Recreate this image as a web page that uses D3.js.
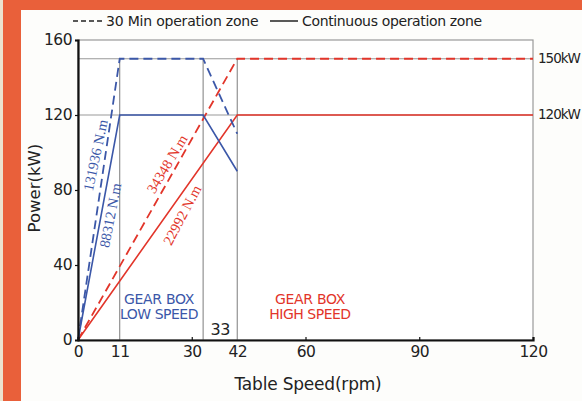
<!DOCTYPE html>
<html><head><meta charset="utf-8">
<script src="https://cdn.jsdelivr.net/npm/d3@7/dist/d3.min.js"></script>
<style>html,body{margin:0;padding:0;background:#fff;overflow:hidden}</style>
</head><body><svg id="c" width="582" height="401"></svg>
<script>
const xTicks = [0, 11, 30, 42, 60, 90, 120];
const yTicks = [0, 40, 80, 120, 160];
const blueDash = [[0,0],[11,150],[33,150],[42,110]];
const blueSolid = [[0,0],[11,120],[33,120],[42,90]];
const redDash = [[0,0],[42,150],[120,150]];
const redSolid = [[0,0],[42,120],[120,120]];
const refH = [150, 120];
const refV = [11, 33, 42];
const rightLabels = [[150,"150kW"],[120,"120kW"]];
const torqueLabels = [
  {text:"131936 N.m", at:[5.9, 98], angle:-78, color:"#3b57a8"},
  {text:"88312 N.m", at:[9.8, 66], angle:-79, color:"#3b57a8"},
  {text:"34348 N.m", at:[24.6, 92.5], angle:-59, color:"#e2352a"},
  {text:"22992 N.m", at:[28.6, 65.4], angle:-62, color:"#e2352a"}
];
const F = "DejaVu Sans, sans-serif";
const blue = "#3b57a8", red = "#e2352a";

const svg = d3.select("#c");
// page frame
svg.append("rect").attr("x",0).attr("y",0).attr("width",582).attr("height",401).attr("fill","#fdfdfb");
svg.append("rect").attr("x",0).attr("y",0).attr("width",582).attr("height",10).attr("fill","#e9603a");
svg.append("rect").attr("x",0).attr("y",0).attr("width",3).attr("height",401).attr("fill","#ece3cf");
svg.append("rect").attr("x",3).attr("y",0).attr("width",18).attr("height",401).attr("fill","#e9603a");

const x = d3.scaleLinear().domain([0,120]).range([78,533]);
const y = d3.scaleLinear().domain([0,160]).range([340,40]);

// box
svg.append("rect").attr("x",x(0)).attr("y",y(160)).attr("width",x(120)-x(0)).attr("height",y(0)-y(160))
  .attr("fill","#fff").attr("stroke","#999").attr("stroke-width",1.2);

// reference lines
refH.forEach(v=>svg.append("line").attr("x1",x(0)).attr("x2",x(120)).attr("y1",y(v)).attr("y2",y(v))
  .attr("stroke","#999").attr("stroke-width",1));
refV.forEach(v=>svg.append("line").attr("x1",x(v)).attr("x2",x(v)).attr("y1",y(150)).attr("y2",y(0))
  .attr("stroke","#888").attr("stroke-width",1.1));

const line = d3.line().x(d=>x(d[0])).y(d=>y(d[1]));
svg.append("path").attr("d",line(redSolid)).attr("fill","none").attr("stroke",red).attr("stroke-width",1.6);
svg.append("path").attr("d",line(redDash)).attr("fill","none").attr("stroke",red).attr("stroke-width",1.8).attr("stroke-dasharray","9,5");
svg.append("path").attr("d",line(blueSolid)).attr("fill","none").attr("stroke",blue).attr("stroke-width",1.6);
svg.append("path").attr("d",line(blueDash)).attr("fill","none").attr("stroke",blue).attr("stroke-width",1.8).attr("stroke-dasharray","9,5");

// axes
const xa = svg.append("g").attr("transform",`translate(0,${y(0)})`)
  .call(d3.axisBottom(x).tickValues(xTicks).tickSize(-3).tickPadding(6).tickFormat(d3.format("d")));
const ya = svg.append("g").attr("transform",`translate(${x(0)},0)`)
  .call(d3.axisLeft(y).tickValues(yTicks).tickSize(3).tickPadding(3).tickFormat(d3.format("d")));
[xa,ya].forEach(g=>{
  g.select(".domain").attr("stroke","#111").attr("stroke-width",2.2);
  g.selectAll(".tick line").attr("stroke","#111").attr("stroke-width",1.2);
  g.selectAll("text").attr("font-family",F).attr("font-size",15.5).attr("fill","#222").attr("letter-spacing",-0.5);
});
xa.selectAll(".tick").filter(d=>d===11||d===42||d===0).select("line").remove();
ya.selectAll(".tick").filter(d=>d===0).select("line").remove();

// right labels
rightLabels.forEach(([v,t])=>svg.append("text").attr("x",x(120)+5).attr("y",y(v)+4).text(t)
  .attr("font-family",F).attr("font-size",13.5).attr("fill","#222").attr("letter-spacing",-1));

// 33 label
svg.append("text").attr("x",(x(33)+x(42))/2).attr("y",y(0)-5).attr("text-anchor","middle").text("33")
  .attr("font-family",F).attr("font-size",16).attr("fill","#222").attr("letter-spacing",-0.5);

// axis titles
svg.append("text").attr("x",308).attr("y",390).attr("text-anchor","middle").text("Table Speed(rpm)")
  .attr("font-family",F).attr("font-size",17).attr("fill","#222").attr("letter-spacing",-0.2);
svg.append("text").attr("transform",`translate(40,${y(81)}) rotate(-90)`).attr("text-anchor","middle").text("Power(kW)")
  .attr("font-family",F).attr("font-size",16.5).attr("fill","#222");

// legend
const lg = svg.append("g");
lg.append("line").attr("x1",73).attr("x2",103).attr("y1",21).attr("y2",21).attr("stroke","#222").attr("stroke-width",1.5).attr("stroke-dasharray","5,3");
lg.append("text").attr("x",106).attr("y",26).text("30 Min operation zone").attr("font-family",F).attr("font-size",14).attr("fill","#222").attr("letter-spacing",-0.2);
lg.append("line").attr("x1",270).attr("x2",298).attr("y1",21).attr("y2",21).attr("stroke","#222").attr("stroke-width",1.5);
lg.append("text").attr("x",302).attr("y",26).text("Continuous operation zone").attr("font-family",F).attr("font-size",14).attr("fill","#222").attr("letter-spacing",-0.35);

// gear box labels
[["GEAR BOX","LOW SPEED",159,blue],["GEAR BOX","HIGH SPEED",310,red]].forEach(([a,b,cx,c])=>{
  svg.append("text").attr("x",cx).attr("y",304).attr("text-anchor","middle").text(a).attr("font-family",F).attr("font-size",14).attr("fill",c).attr("letter-spacing",-0.3);
  svg.append("text").attr("x",cx).attr("y",319).attr("text-anchor","middle").text(b).attr("font-family",F).attr("font-size",14).attr("fill",c).attr("letter-spacing",-0.5);
});

// torque labels along lines
torqueLabels.forEach(l=>{
  svg.append("text").attr("transform",`translate(${x(l.at[0])},${y(l.at[1])}) rotate(${l.angle})`)
    .attr("text-anchor","middle").text(l.text)
    .attr("font-family","Liberation Serif, serif").attr("font-size",14.5).attr("fill",l.color);
});
</script></body></html>
